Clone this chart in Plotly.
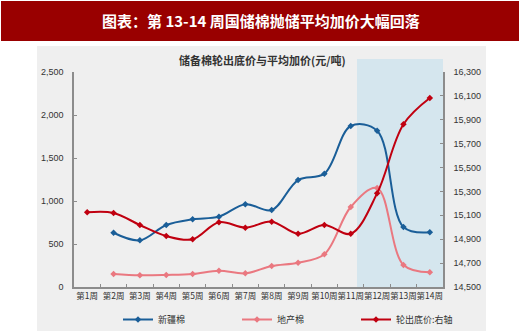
import plotly.graph_objects as go

weeks = ["第1周", "第2周", "第3周", "第4周", "第5周", "第6周", "第7周",
         "第8周", "第9周", "第10周", "第11周", "第12周", "第13周", "第14周"]
xinjiang = [None, 631, 543, 721, 787, 818, 962, 895, 1244, 1318, 1872, 1818, 698, 636]
dichan = [None, 151, 136, 140, 151, 190, 159, 244, 283, 380, 930, 1150, 256, 171]
floor_price = [15125, 15120, 15019, 14927, 14899, 15042, 14997, 15047, 14946, 15019,
               14946, 15284, 15862, 16082]

W, H = 520, 335
L, R, T, B = 74, 443, 72, 287  # plot area in pixels


def px(x):
    return (x - L) / (R - L)


def py(y):
    return (B - y) / (B - T)


fig = go.Figure()
fig.add_trace(go.Scatter(x=weeks, y=xinjiang, name="新疆棉", mode="lines+markers",
                         line=dict(color="#1a5e98", width=2, shape="spline"),
                         marker=dict(symbol="diamond", size=5, color="#1a5e98")))
fig.add_trace(go.Scatter(x=weeks, y=dichan, name="地产棉", mode="lines+markers",
                         line=dict(color="#ea7880", width=2, shape="spline"),
                         marker=dict(symbol="diamond", size=5, color="#ea7880")))
fig.add_trace(go.Scatter(x=weeks, y=floor_price, name="轮出底价:右轴", mode="lines+markers",
                         yaxis="y2",
                         line=dict(color="#c00010", width=2, shape="spline"),
                         marker=dict(symbol="diamond", size=5, color="#c00010")))

shapes = [
    dict(type="rect", xref="paper", yref="paper", x0=px(37), x1=px(486), y0=py(331), y1=py(46),
         fillcolor="#efefef", line=dict(width=0), layer="below"),
    dict(type="rect", xref="paper", yref="paper", x0=px(1), x1=px(519), y0=py(41), y1=py(1),
         fillcolor="#990000", line=dict(width=0), layer="below"),
    dict(type="rect", xref="paper", yref="paper", x0=px(357), x1=1, y0=0, y1=py(59),
         fillcolor="#d5e6ee", line=dict(width=0), layer="below"),
]

annotations = [
    dict(text="<b>图表：第 13-14 周国储棉抛储平均加价大幅回落</b>", xref="paper", yref="paper",
         x=px(261), y=py(21), showarrow=False, xanchor="center", yanchor="middle",
         font=dict(size=15, color="white", family="Noto Sans CJK SC")),
    dict(text="<b>储备棉轮出底价与平均加价(元/吨)</b>", xref="paper", yref="paper",
         x=px(262), y=py(60), showarrow=False, xanchor="center", yanchor="middle",
         font=dict(size=11, color="#333333", family="Noto Sans CJK SC")),
]

fig.update_layout(
    width=W, height=H,
    margin=dict(l=L, r=W - R, t=T, b=H - B, pad=0, autoexpand=False),
    paper_bgcolor="white", plot_bgcolor="rgba(0,0,0,0)",
    font=dict(family="Noto Sans CJK SC, Liberation Sans", size=9, color="#333333"),
    shapes=shapes, annotations=annotations,
    showlegend=True,
    legend=dict(orientation="h", x=px(118), y=py(305), xanchor="left", yanchor="top",
                entrywidth=74, entrywidthmode="pixels", bgcolor="rgba(0,0,0,0)",
                font=dict(size=9, color="#333333"), itemwidth=30),
    xaxis=dict(type="category", range=[-0.5, 13.5], showline=True, linecolor="#8c8c8c",
               linewidth=1.5, ticks="inside", ticklen=3, tickcolor="#8c8c8c",
               tickson="boundaries", showgrid=False, zeroline=False, tickangle=0,
               automargin=False,
               tickfont=dict(size=8.5, color="#333333")),
    yaxis=dict(range=[0, 2500], dtick=500, tickformat=",", showline=True,
               linecolor="#8c8c8c", linewidth=1.5, ticks="inside", ticklen=3,
               tickcolor="#8c8c8c", showgrid=False, zeroline=False, automargin=False,
               ticklabelstandoff=7,
               tickfont=dict(size=9, color="#333333", family="Liberation Sans")),
    yaxis2=dict(range=[14500, 16300], tick0=14500, dtick=200, tickformat=",", overlaying="y",
                side="right", showline=True, linecolor="#8c8c8c", linewidth=1.5,
                ticks="inside", ticklen=3, tickcolor="#8c8c8c", showgrid=False,
                zeroline=False, ticklabelstandoff=7, automargin=False,
                tickfont=dict(size=9, color="#333333", family="Liberation Sans")),
)

fig.write_html("out.html")
